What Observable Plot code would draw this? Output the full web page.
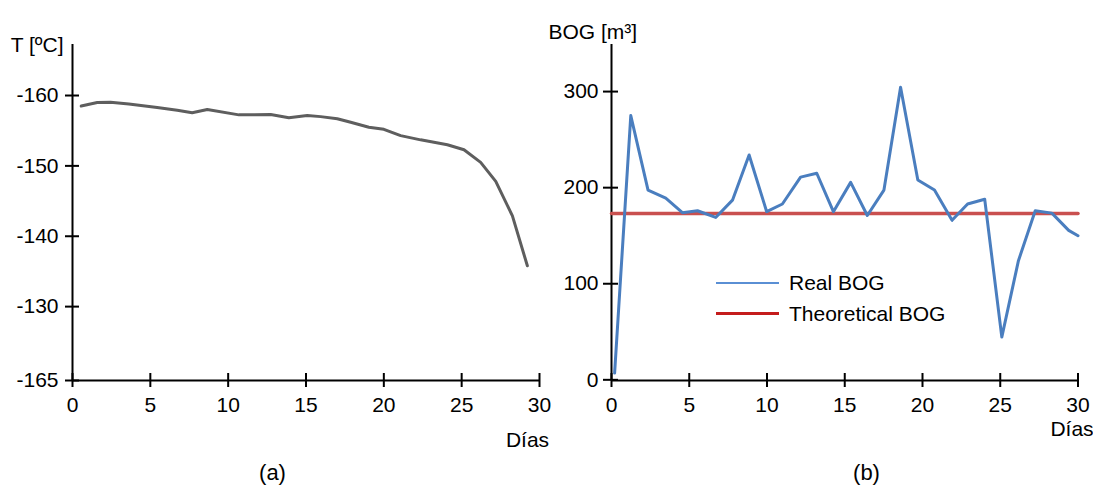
<!DOCTYPE html>
<html>
<head>
<meta charset="utf-8">
<script src="https://cdn.jsdelivr.net/npm/d3@7"></script>
<script src="https://cdn.jsdelivr.net/npm/@observablehq/plot@0.6"></script>
<style>
  html, body { margin: 0; padding: 0; background: #fff; }
  #wrap { position: relative; width: 1093px; height: 489px; overflow: hidden; background: #fff; font-family: "Liberation Sans", Arial, sans-serif; }
  #left, #right { position: absolute; top: 0; }
  #left { left: 0; z-index: 2; }
  #right { left: 540px; z-index: 1; }
  #legend { position: absolute; left: 716px; top: 267px; font-size: 21px; color: #000; z-index: 3; }
  .row { display: flex; align-items: center; height: 31px; }
  .sw { width: 63px; margin-right: 10px; }
</style>
</head>
<body>
<div id="wrap">
  <div id="left"></div>
  <div id="right"></div>
  <div id="legend"></div>
</div>
<script>
// ---- Data: panel (a) temperature ----
const tDays  = [0.56, 1.59, 2.44, 3.62, 5.44, 6.73, 7.69, 8.66, 10.69, 12.73, 13.9, 15.08, 15.94, 17.01, 17.87, 19.04, 20.0, 21.08, 22.36, 24.08, 25.15, 26.22, 27.19, 28.26, 29.22];
const tempC  = [-158.5, -159.0, -159.05, -158.8, -158.3, -157.9, -157.55, -158.0, -157.25, -157.3, -156.85, -157.15, -157.0, -156.7, -156.2, -155.5, -155.2, -154.3, -153.7, -153.0, -152.3, -150.5, -147.8, -142.9, -135.8];

// ---- Data: panel (b) BOG ----
const bDays   = [0.2, 1.24, 2.35, 3.49, 4.56, 5.53, 6.7, 7.78, 8.85, 9.98, 10.99, 12.16, 13.2, 14.27, 15.38, 16.45, 17.52, 18.59, 19.7, 20.77, 21.9, 22.9, 24.0, 25.1, 26.17, 27.25, 28.32, 29.4, 30.0];
const realBOG = [7, 275, 197.5, 189, 174, 176, 169, 187, 234, 175, 183, 211, 215, 175, 205.5, 171, 197.5, 304.5, 208, 197.5, 166, 183, 188, 44.5, 124, 176, 173.5, 155.5, 150];
const theoBOG = 173;
const theoDays = [0, 30];

// ---- Axes / labels ----
const xTicks = [0, 5, 10, 15, 20, 25, 30];
const tTickValues = [-160, -150, -140, -130, -119.5];
const tTickLabels = ["-160", "-150", "-140", "-130", "-165"];
const bTickValues = [0, 100, 200, 300];
const tTitle = "T [ºC]";
const bTitle = "BOG [m³]";
const xTitle = "Días";
const captions = ["(a)", "(b)"];
const seriesNames = ["Real BOG", "Theoretical BOG"];
const colors = {temp: "#5e5e5e", real: "#4a7ebf", theo: "#c9504f", legReal: "#5a8fd4", legTheo: "#c41c1c"};

const FS = 21;
const font = {fontSize: FS + "px", fontFamily: "'Liberation Sans', Arial, sans-serif", background: "none", overflow: "visible", color: "#000"};

const tData = tDays.map((d, i) => ({d, t: tempC[i]}));
const bData = bDays.map((d, i) => ({d, v: realBOG[i]}));
const theoData = theoDays.map(d => ({d, v: theoBOG}));

const left = Plot.plot({
  width: 546, height: 489,
  marginLeft: 72, marginRight: 7, marginTop: 44, marginBottom: 109,
  style: font,
  x: {domain: [0, 30]},
  y: {domain: [-119.5, -167.25]},
  marks: [
    Plot.ruleX([0], {stroke: "#000", strokeWidth: 2}),
    Plot.ruleY([-119.5], {stroke: "#000", strokeWidth: 2}),
    Plot.axisX({ticks: xTicks, tickSize: 14, dy: -7, tickFormat: () => "", strokeWidth: 2, label: null}),
    Plot.axisX({ticks: xTicks, tickSize: 0, tickPadding: 17, label: null, fontSize: FS}),
    Plot.axisY({ticks: tTickValues, tickSize: 14, dx: 7, tickFormat: () => "", strokeWidth: 2, label: null}),
    Plot.axisY({ticks: tTickValues, tickSize: 0, tickPadding: 14, label: null, fontSize: FS,
      tickFormat: d => tTickLabels[tTickValues.indexOf(d)]}),
    Plot.line(tData, {x: "d", y: "t", stroke: colors.temp, strokeWidth: 3}),
    Plot.text([tTitle], {frameAnchor: "top-left", textAnchor: "end", lineAnchor: "middle", dx: -9, dy: 1, fontSize: FS}),
    Plot.text([xTitle], {frameAnchor: "bottom-right", textAnchor: "middle", lineAnchor: "middle", dx: -12, dy: 60, fontSize: FS}),
    Plot.text([captions[0]], {frameAnchor: "bottom-left", textAnchor: "middle", lineAnchor: "middle", dx: 200, dy: 92, fontSize: 22})
  ]
});
document.getElementById("left").append(left);

const right = Plot.plot({
  width: 553, height: 489,
  marginLeft: 71, marginRight: 15.5, marginTop: 44, marginBottom: 109,
  style: font,
  x: {domain: [0, 30]},
  y: {domain: [-0.7, 349]},
  marks: [
    Plot.ruleX([0], {stroke: "#000", strokeWidth: 2}),
    Plot.ruleY([-0.7], {stroke: "#000", strokeWidth: 2}),
    Plot.axisX({ticks: xTicks, tickSize: 14, dy: -7, tickFormat: () => "", strokeWidth: 2, label: null}),
    Plot.axisX({ticks: xTicks, tickSize: 0, tickPadding: 17, label: null, fontSize: FS}),
    Plot.axisY({ticks: bTickValues, tickSize: 15, dx: 7, tickFormat: () => "", strokeWidth: 2, label: null}),
    Plot.axisY({ticks: bTickValues, tickSize: 0, tickPadding: 13, label: null, fontSize: FS}),
    Plot.line(theoData, {x: "d", y: "v", stroke: colors.theo, strokeWidth: 3.5}),
    Plot.line(bData, {x: "d", y: "v", stroke: colors.real, strokeWidth: 3}),
    Plot.text([bTitle], {frameAnchor: "top-left", textAnchor: "start", lineAnchor: "middle", dx: -63, dy: -12, fontSize: FS}),
    Plot.text([xTitle], {frameAnchor: "bottom-right", textAnchor: "middle", lineAnchor: "middle", dx: -6, dy: 49, fontSize: FS}),
    Plot.text([captions[1]], {frameAnchor: "bottom-left", textAnchor: "middle", lineAnchor: "middle", dx: 255, dy: 92, fontSize: 22})
  ]
});
document.getElementById("right").append(right);

// legend
const leg = document.getElementById("legend");
[[seriesNames[0], colors.legReal, 2], [seriesNames[1], colors.legTheo, 2.5]].forEach(([name, c, h]) => {
  const row = document.createElement("div");
  row.className = "row";
  const sw = document.createElement("span");
  sw.className = "sw";
  sw.style.background = c;
  sw.style.height = h + "px";
  const tx = document.createElement("span");
  tx.textContent = name;
  row.append(sw, tx);
  leg.append(row);
});
</script>
</body>
</html>
